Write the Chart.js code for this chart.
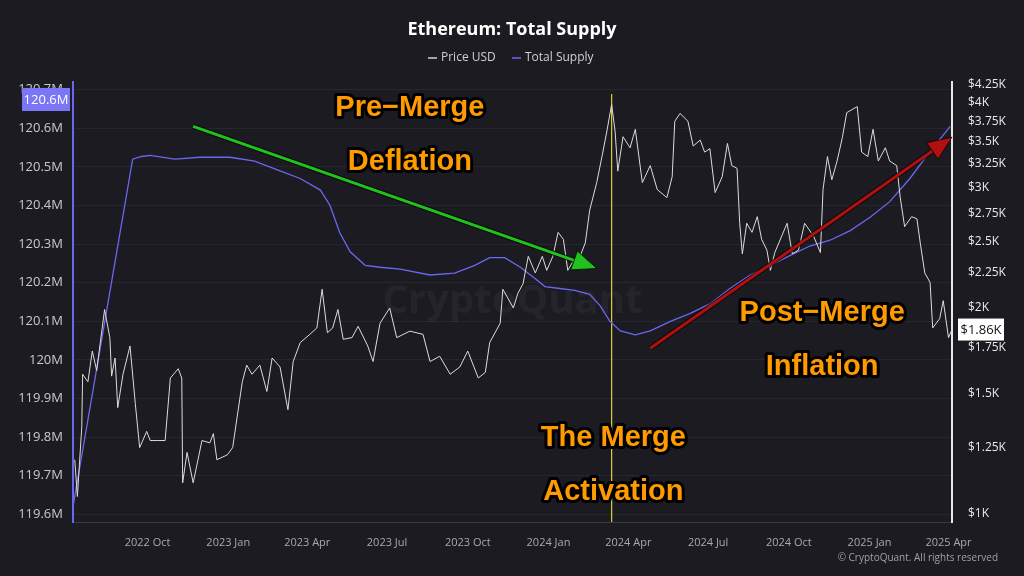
<!DOCTYPE html>
<html>
<head>
<meta charset="utf-8">
<script src="https://cdn.jsdelivr.net/npm/chart.js@4"></script>
<style>
  html, body { margin: 0; padding: 0; background: #1c1b21; }
  #wrap { width: 1024px; height: 576px; position: relative; }
</style>
</head>
<body>
<div id="wrap"><canvas id="supplyChart" width="1024" height="576"></canvas></div>
<script>
// day offsets counted from startDate
const startDate = '2022-07-08';
const mergeDate = '2024-03-13';

const tickDates = ['2022-10-01', '2023-01-01', '2023-04-01', '2023-07-01', '2023-10-01', '2024-01-01',
    '2024-04-01', '2024-07-01', '2024-10-01', '2025-01-01', '2025-04-01'];
const tickLabels = ['2022 Oct', '2023 Jan', '2023 Apr', '2023 Jul', '2023 Oct', '2024 Jan',
    '2024 Apr', '2024 Jul', '2024 Oct', '2025 Jan', '2025 Apr'];

const supplyDays = [0, 68, 78, 88, 116, 145, 179, 207, 236, 259, 282, 293, 304, 316, 333, 350, 373, 407, 435, 458,
    475, 492, 510, 527, 538, 555, 572, 589, 601, 612, 624, 641, 658, 681, 703, 726, 749, 772, 795, 817, 840,
    863, 886, 909, 931, 954, 977, 1000];
const supplyValues = [119.62, 120.52, 120.527, 120.53, 120.52, 120.525, 120.525, 120.515, 120.49, 120.47, 120.44, 120.40,
    120.33, 120.28, 120.245, 120.24, 120.235, 120.22, 120.225, 120.245, 120.265, 120.265, 120.24, 120.21, 120.19,
    120.185, 120.18, 120.17, 120.14, 120.1, 120.075, 120.065, 120.075, 120.1, 120.12, 120.145, 120.185, 120.22,
    120.245, 120.27, 120.295, 120.31, 120.335, 120.37, 120.41, 120.47, 120.54, 120.605];

const priceDays = [2, 5, 10, 11, 17, 22, 27, 36, 42, 44, 48, 51, 57, 65, 71, 76, 84, 88, 96, 105, 111, 120, 124,
    125, 130, 137, 147, 156, 160, 164, 176, 182, 193, 198, 204, 213, 221, 227, 236, 245, 251, 259, 270, 278, 284,
    290, 296, 302, 308, 318, 325, 336, 342, 350, 361, 369, 384, 399, 407, 418, 430, 441, 450, 462, 470, 475, 487,
    490, 502, 507, 513, 519, 527, 535, 540, 547, 553, 559, 564, 570, 578, 584, 589, 597, 603, 609, 614, 618, 621,
    627, 635, 641, 649, 658, 666, 677, 683, 686, 692, 701, 707, 715, 720, 726, 732, 740, 746, 751, 757, 760, 763,
    768, 774, 780, 785, 791, 795, 800, 808, 814, 820, 827, 834, 844, 852, 855, 860, 865, 871, 877, 882, 888, 894,
    899, 906, 912, 918, 926, 931, 939, 943, 948, 956, 962, 966, 971, 977, 980, 988, 992, 998, 1002];
const priceValues = [1200, 1060, 1340, 1600, 1560, 1730, 1620, 1990, 1810, 1590, 1690, 1430, 1600, 1760, 1450,
    1250, 1320, 1280, 1280, 1280, 1580, 1630, 1580, 1110, 1230, 1110, 1280, 1270, 1310, 1200, 1220, 1250, 1560,
    1650, 1600, 1650, 1510, 1690, 1640, 1420, 1670, 1780, 1830, 1870, 2130, 1840, 1870, 1990, 1800, 1810, 1880,
    1760, 1670, 1900, 2000, 1810, 1850, 1830, 1670, 1700, 1600, 1640, 1730, 1580, 1610, 1780, 1900, 2130, 2000,
    2100, 2170, 2380, 2250, 2380, 2270, 2380, 2580, 2520, 2270, 2340, 2380, 2490, 2780, 3050, 3330, 3650, 3970,
    3620, 3170, 3560, 3430, 3650, 3050, 3230, 2980, 2900, 3110, 3750, 3850, 3750, 3450, 3520, 3380, 3420, 2950,
    3110, 3480, 3230, 3200, 2660, 2400, 2660, 2580, 2720, 2520, 2430, 2270, 2410, 2550, 2660, 2400, 2430, 2660,
    2550, 2410, 2980, 3330, 3080, 3280, 3550, 3860, 3900, 3940, 3380, 3330, 3650, 3280, 3430, 3280, 3230, 2900,
    2630, 2720, 2700, 2480, 2250, 2180, 1870, 1930, 2050, 1810, 1860];

const priceTicks = [1000, 1250, 1500, 1750, 2000, 2250, 2500, 2750, 3000, 3250, 3500, 3750, 4000, 4250];

function dayOf(d) {
    return Math.round((new Date(d) - new Date(startDate)) / 86400000);
}

function toPoints(xs, ys) {
    return xs.map((x, i) => ({ x: x, y: ys[i] }));
}

function fmtPrice(v) {
    return '$' + (v / 1000).toString() + 'K';
}

// annotations placed in data units (day, supply)
const notes = [
    { text: 'Pre\u2212Merge', x: 384, y: 120.652 },
    { text: 'Deflation', x: 384, y: 120.512 },
    { text: 'The Merge', x: 616, y: 119.797 },
    { text: 'Activation', x: 616, y: 119.657 },
    { text: 'Post\u2212Merge', x: 854, y: 120.121 },
    { text: 'Inflation', x: 854, y: 119.981 }
];
const arrows = [
    { from: [137, 120.605], to: [597, 120.237], color: '#22c21e' },
    { from: [658, 120.03], to: [1002, 120.577], color: '#b01010' }
];

function drawArrow(ctx, x1, y1, x2, y2, color) {
    const ang = Math.atan2(y2 - y1, x2 - x1);
    const head = 24, wing = 10;
    const bx = x2 - head * Math.cos(ang), by = y2 - head * Math.sin(ang);
    ctx.save();
    ctx.strokeStyle = 'rgba(0,0,0,0.7)';
    ctx.lineWidth = 5;
    ctx.beginPath(); ctx.moveTo(x1, y1); ctx.lineTo(bx, by); ctx.stroke();
    ctx.strokeStyle = color;
    ctx.lineWidth = 3;
    ctx.beginPath(); ctx.moveTo(x1, y1); ctx.lineTo(bx, by); ctx.stroke();
    ctx.fillStyle = color;
    ctx.beginPath();
    ctx.moveTo(x2, y2);
    ctx.lineTo(bx + wing * Math.sin(ang), by - wing * Math.cos(ang));
    ctx.lineTo(bx - wing * Math.sin(ang), by + wing * Math.cos(ang));
    ctx.closePath();
    ctx.fill();
    ctx.strokeStyle = 'rgba(0,0,0,0.7)';
    ctx.lineWidth = 1;
    ctx.stroke();
    ctx.restore();
}

const decorPlugin = {
    id: 'decor',
    beforeDatasetsDraw(chart) {
        const ctx = chart.ctx, a = chart.chartArea;
        ctx.save();
        ctx.font = 'bold 40px "Open Sans", sans-serif';
        ctx.fillStyle = 'rgba(255,255,255,0.045)';
        ctx.textAlign = 'center';
        ctx.textBaseline = 'middle';
        ctx.fillText('CryptoQuant', (a.left + a.right) / 2, (a.top + a.bottom) / 2);
        const mx = chart.scales.x.getPixelForValue(dayOf(mergeDate));
        ctx.strokeStyle = '#dcd23a';
        ctx.lineWidth = 1.2;
        ctx.beginPath(); ctx.moveTo(mx, a.top + 12); ctx.lineTo(mx, a.bottom); ctx.stroke();
        ctx.restore();
    },
    afterDraw(chart) {
        const ctx = chart.ctx, a = chart.chartArea;
        const xs = chart.scales.x, ys = chart.scales.y;
        ctx.save();
        // title + legend
        ctx.fillStyle = '#ffffff';
        ctx.font = 'bold 18px "Open Sans", sans-serif';
        ctx.textAlign = 'center';
        ctx.textBaseline = 'middle';
        ctx.fillText('Ethereum: Total Supply', 512, 30);
        ctx.font = '12px "Open Sans", sans-serif';
        ctx.textAlign = 'left';
        ctx.fillStyle = '#cfcfd4';
        ctx.strokeStyle = '#d0d0d0'; ctx.lineWidth = 1.5;
        ctx.beginPath(); ctx.moveTo(428, 58); ctx.lineTo(437, 58); ctx.stroke();
        ctx.fillText('Price USD', 441, 58);
        ctx.strokeStyle = '#6b67f0';
        ctx.beginPath(); ctx.moveTo(512, 58); ctx.lineTo(521, 58); ctx.stroke();
        ctx.fillText('Total Supply', 525, 58);

        // arrows
        arrows.forEach(ar => drawArrow(ctx,
            xs.getPixelForValue(ar.from[0]), ys.getPixelForValue(ar.from[1]),
            xs.getPixelForValue(ar.to[0]), ys.getPixelForValue(ar.to[1]), ar.color));

        // big labels
        ctx.font = 'bold 29px "Liberation Sans", Arial, sans-serif';
        ctx.textAlign = 'center';
        ctx.lineJoin = 'round';
        notes.forEach(n => {
            const px = xs.getPixelForValue(n.x), py = ys.getPixelForValue(n.y);
            ctx.strokeStyle = '#000000'; ctx.lineWidth = 6;
            ctx.strokeText(n.text, px, py);
            ctx.fillStyle = '#ff9a00';
            ctx.fillText(n.text, px, py);
        });

        // value tags
        ctx.font = '13px "Open Sans", sans-serif';
        ctx.fillStyle = '#7a76f5';
        ctx.fillRect(22, a.top + 6, 48, 23);
        ctx.fillStyle = '#ffffff';
        ctx.textAlign = 'center';
        ctx.fillText(supplyValues[supplyValues.length - 1].toFixed(1) + 'M', 46, a.top + 18);
        const rp = chart.scales.y1.getPixelForValue(priceValues[priceValues.length - 1]);
        ctx.fillStyle = '#ffffff';
        ctx.fillRect(958, rp - 11, 46, 22);
        ctx.fillStyle = '#111111';
        ctx.fillText('$' + (priceValues[priceValues.length - 1] / 1000).toFixed(2) + 'K', 981, rp + 1);

        // footer
        ctx.font = '10px "Open Sans", sans-serif';
        ctx.fillStyle = '#a0a0a8';
        ctx.textAlign = 'right';
        ctx.fillText('\u00a9 CryptoQuant. All rights reserved', 998, 558);
        ctx.restore();
    }
};

new Chart(document.getElementById('supplyChart').getContext('2d'), {
    type: 'line',
    data: {
        datasets: [{
            label: 'Price USD',
            data: toPoints(priceDays, priceValues),
            borderColor: '#dcdcdc',
            borderWidth: 1,
            pointRadius: 0,
            tension: 0,
            yAxisID: 'y1'
        }, {
            label: 'Total Supply',
            data: toPoints(supplyDays, supplyValues),
            borderColor: '#6b67f0',
            borderWidth: 1.3,
            pointRadius: 0,
            tension: 0,
            yAxisID: 'y'
        }]
    },
    options: {
        responsive: false,
        animation: false,
        layout: { padding: { top: 82, left: 0, right: 0, bottom: 0 } },
        plugins: { legend: { display: false }, title: { display: false }, tooltip: { enabled: false } },
        scales: {
            x: {
                type: 'linear',
                min: 0,
                max: 1002,
                afterBuildTicks: axis => { axis.ticks = tickDates.map(d => ({ value: dayOf(d) })); },
                afterFit: axis => { axis.height = 54; },
                ticks: {
                    color: '#a8a8b0',
                    font: { size: 11, family: '"Open Sans", sans-serif' },
                    maxRotation: 0,
                    padding: 6,
                    callback: (v, i) => tickLabels[i]
                },
                grid: { display: false, drawTicks: true },
                border: { color: '#3a3a42' }
            },
            y: {
                position: 'left',
                min: 119.58,
                max: 120.72,
                afterBuildTicks: axis => {
                    const t = [];
                    for (let i = 0; i <= 11; i++) t.push({ value: Math.round((119.6 + i * 0.1) * 10) / 10 });
                    axis.ticks = t;
                },
                afterFit: axis => { axis.width = 73; },
                ticks: {
                    color: '#c8c8ce',
                    font: { size: 13, family: '"Open Sans", sans-serif' },
                    padding: 10,
                    callback: v => (Number.isInteger(Math.round(v * 10) / 10) ? Math.round(v) : v.toFixed(1)) + 'M'
                },
                grid: { color: '#26262d', drawTicks: false },
                border: { color: '#6b67f0', width: 2 }
            },
            y1: {
                type: 'logarithmic',
                position: 'right',
                min: 973,
                max: 4280,
                afterBuildTicks: axis => { axis.ticks = priceTicks.map(v => ({ value: v })); },
                afterFit: axis => { axis.width = 72; },
                ticks: {
                    color: '#e8e8ec',
                    font: { size: 12, family: '"Open Sans", sans-serif' },
                    padding: 8,
                    callback: v => fmtPrice(v)
                },
                grid: { display: false },
                border: { color: '#e8e8e8', width: 2 }
            }
        }
    },
    plugins: [decorPlugin]
});
</script>
</body>
</html>
